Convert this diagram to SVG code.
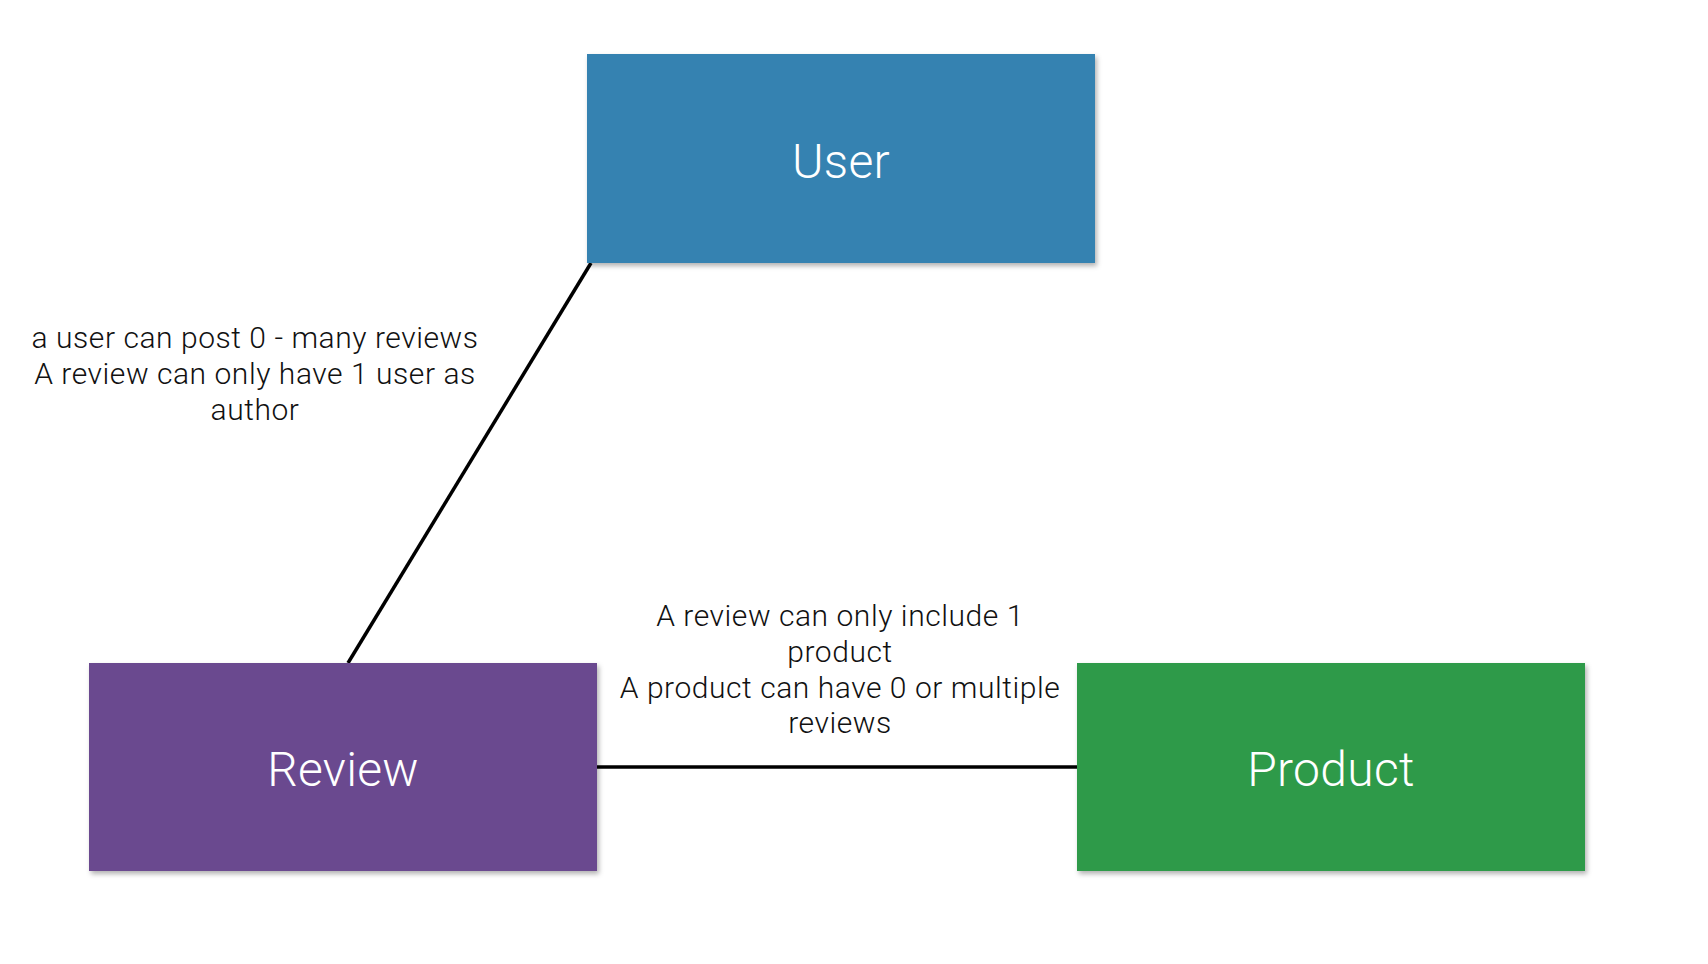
<svg xmlns="http://www.w3.org/2000/svg" width="1708" height="964" viewBox="0 0 1708 964">
  <defs>
    <filter id="shadow" x="-5%" y="-5%" width="112%" height="115%">
      <feDropShadow dx="2" dy="3" stdDeviation="2.5" flood-color="#000" flood-opacity="0.3"/>
    </filter>
  </defs>
  <style>
    .box { filter: url(#shadow); }
    .node-label { font-family: Roboto, "Liberation Sans", sans-serif; font-weight: 300; font-size: 48px; fill: #ffffff; text-anchor: middle; letter-spacing: 0.3px; }
    .edge-label { font-family: Roboto, "Liberation Sans", sans-serif; font-weight: 300; font-size: 30px; fill: #111111; text-anchor: middle; letter-spacing: 0.55px; }
    .edge { stroke: #000000; stroke-width: 3.5; fill: none; }
  </style>
  <rect width="1708" height="964" fill="#ffffff"/>

  <g id="connectors">
    <line class="edge" x1="591" y1="263" x2="348" y2="663"/>
    <line class="edge" x1="597" y1="767" x2="1077" y2="767"/>
    <text class="edge-label" x="255" y="348">a user can post 0 - many reviews</text>
    <text class="edge-label" x="255" y="384">A review can only have 1 user as</text>
    <text class="edge-label" x="255" y="420">author</text>
    <text class="edge-label" x="840" y="626">A review can only include 1</text>
    <text class="edge-label" x="840" y="662">product</text>
    <text class="edge-label" x="840" y="698">A product can have 0 or multiple</text>
    <text class="edge-label" x="840" y="733">reviews</text>
  </g>

  <g id="user">
    <rect class="box" x="587" y="54" width="508" height="209" fill="#3582b1"/>
    <text class="node-label" x="841" y="178">User</text>
  </g>

  <g id="review">
    <rect class="box" x="89" y="663" width="508" height="208" fill="#6b4a8f"/>
    <text class="node-label" x="343" y="786">Review</text>
  </g>

  <g id="product">
    <rect class="box" x="1077" y="663" width="508" height="208" fill="#2f9a48"/>
    <text class="node-label" x="1331" y="786">Product</text>
  </g>
</svg>
